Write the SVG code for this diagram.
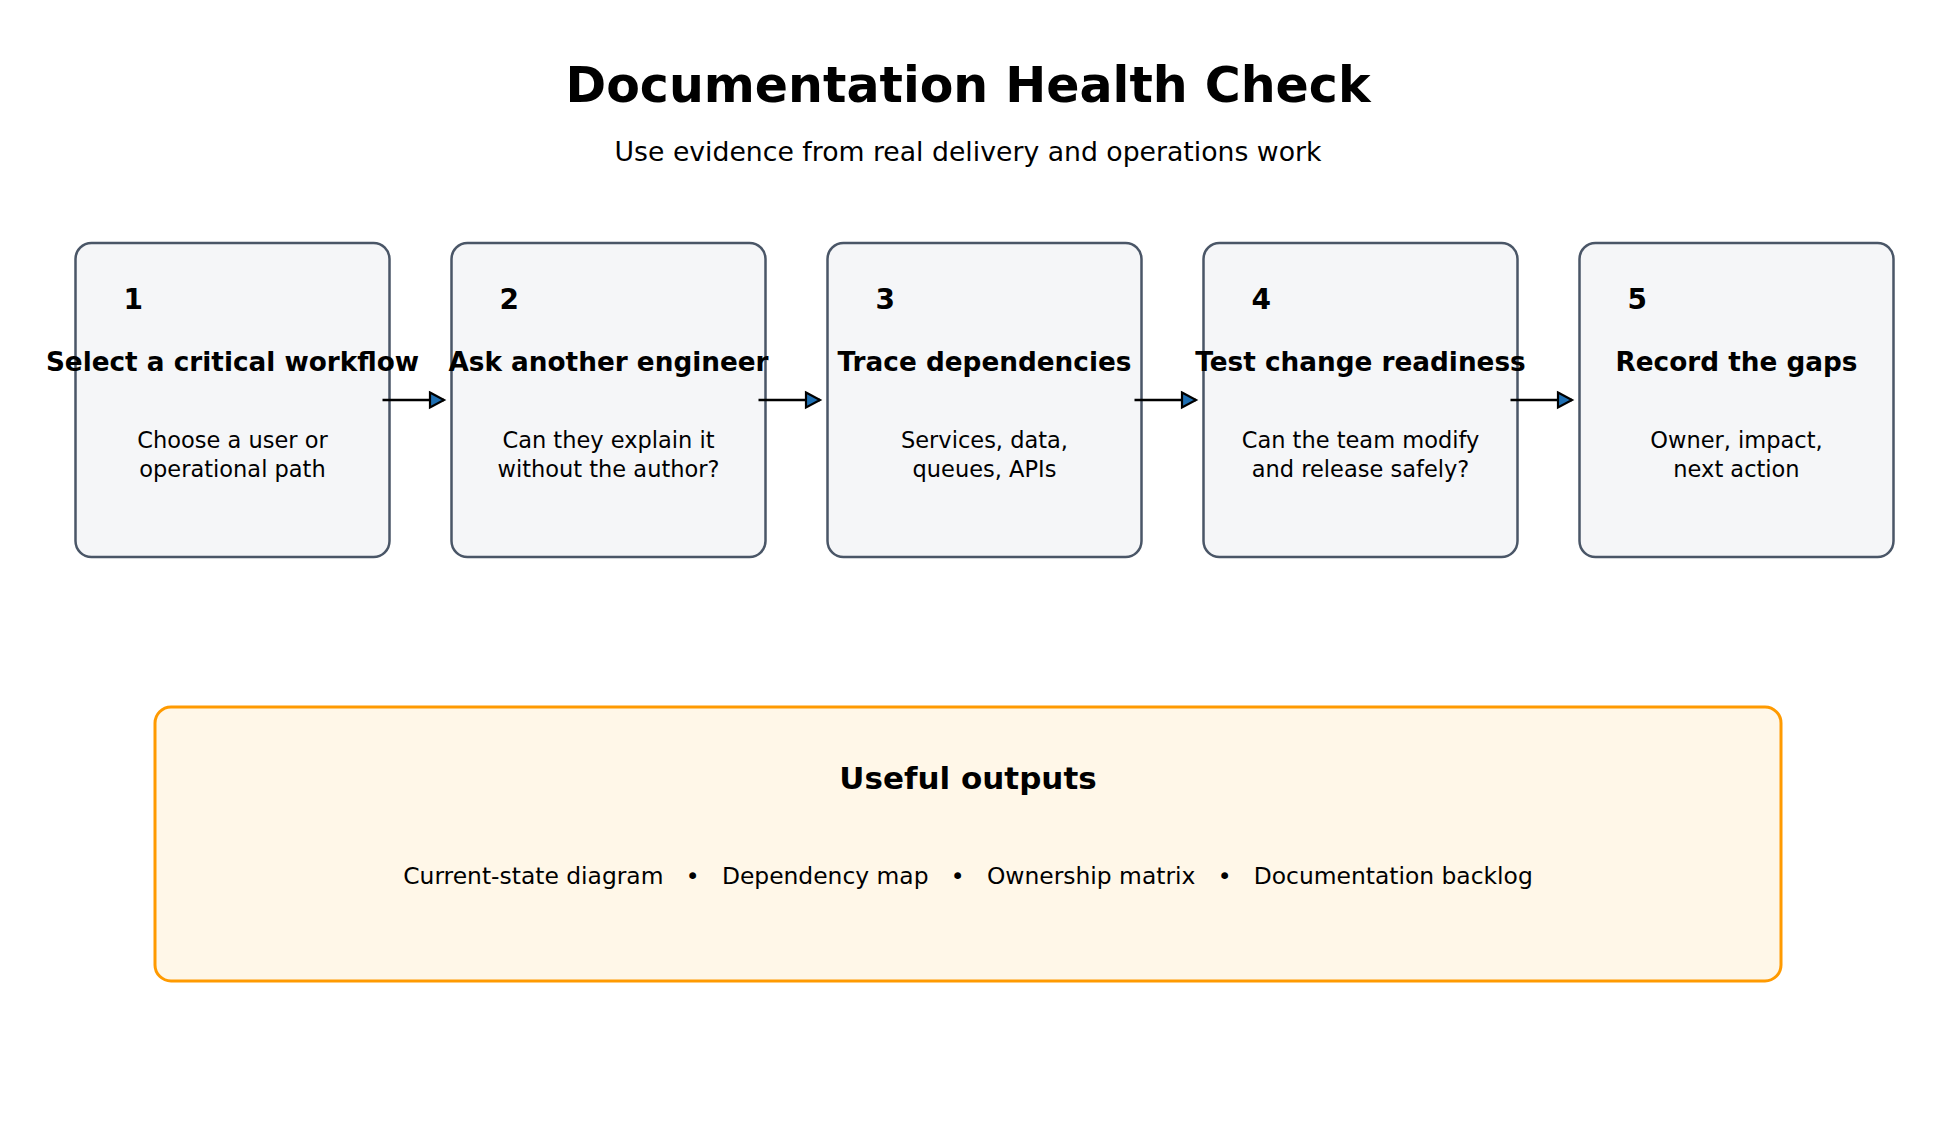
<svg xmlns="http://www.w3.org/2000/svg" width="1936" height="1136" viewBox="0 0 1936 1136">
  <style>
    text { font-family: "DejaVu Sans", "Noto Sans", sans-serif; fill: #000000; }
    .title { font-size: 49px; font-weight: bold; text-anchor: middle; }
    .subtitle { font-size: 26.7px; text-anchor: middle; }
    .step { fill: #f5f6f8; stroke: #4a5667; stroke-width: 2.5; }
    .num { font-size: 28px; font-weight: bold; }
    .head { font-size: 26.3px; font-weight: bold; text-anchor: middle; }
    .body { font-size: 22.5px; text-anchor: middle; }
    .conn { stroke: #000000; stroke-width: 2.6; fill: none; }
    .outputs { fill: #fff7e8; stroke: #ff9a00; stroke-width: 3; }
    .otitle { font-size: 31px; font-weight: bold; text-anchor: middle; }
    .olist { font-size: 23.4px; text-anchor: middle; }
  </style>
  <defs>
    <marker id="arrow" markerUnits="userSpaceOnUse" markerWidth="24" markerHeight="24" refX="14" refY="8" orient="auto" overflow="visible">
      <path d="M0,0.5 L14,8 L0,15.5 Z" fill="#1f6fb2" stroke="#000000" stroke-width="2.2" stroke-linejoin="miter"/>
    </marker>
  </defs>
  <rect width="1936" height="1136" fill="#ffffff"/>

  <g id="header">
    <text class="title" x="968" y="102">Documentation Health Check</text>
    <text class="subtitle" x="968" y="161">Use evidence from real delivery and operations work</text>
  </g>

  <g id="step1">
    <rect class="step" x="75.5" y="243" width="314" height="314" rx="16"/>
    <text class="num" x="123.5" y="309">1</text>
    <text class="head" x="232.5" y="370.5">Select a critical workflow</text>
    <text class="body" x="232.5" y="448">Choose a user or</text>
    <text class="body" x="232.5" y="476.5">operational path</text>
  </g>
  <g id="step2">
    <rect class="step" x="451.5" y="243" width="314" height="314" rx="16"/>
    <text class="num" x="499.5" y="309">2</text>
    <text class="head" x="608.5" y="370.5">Ask another engineer</text>
    <text class="body" x="608.5" y="448">Can they explain it</text>
    <text class="body" x="608.5" y="476.5">without the author?</text>
  </g>
  <g id="step3">
    <rect class="step" x="827.5" y="243" width="314" height="314" rx="16"/>
    <text class="num" x="875.5" y="309">3</text>
    <text class="head" x="984.5" y="370.5">Trace dependencies</text>
    <text class="body" x="984.5" y="448">Services, data,</text>
    <text class="body" x="984.5" y="476.5">queues, APIs</text>
  </g>
  <g id="step4">
    <rect class="step" x="1203.5" y="243" width="314" height="314" rx="16"/>
    <text class="num" x="1251.5" y="309">4</text>
    <text class="head" x="1360.5" y="370.5">Test change readiness</text>
    <text class="body" x="1360.5" y="448">Can the team modify</text>
    <text class="body" x="1360.5" y="476.5">and release safely?</text>
  </g>
  <g id="step5">
    <rect class="step" x="1579.5" y="243" width="314" height="314" rx="16"/>
    <text class="num" x="1627.5" y="309">5</text>
    <text class="head" x="1736.5" y="370.5">Record the gaps</text>
    <text class="body" x="1736.5" y="448">Owner, impact,</text>
    <text class="body" x="1736.5" y="476.5">next action</text>
  </g>

  <g id="connectors">
    <line class="conn" x1="382.5" y1="400" x2="444" y2="400" marker-end="url(#arrow)"/>
    <line class="conn" x1="758.5" y1="400" x2="820" y2="400" marker-end="url(#arrow)"/>
    <line class="conn" x1="1134.5" y1="400" x2="1196" y2="400" marker-end="url(#arrow)"/>
    <line class="conn" x1="1510.5" y1="400" x2="1572" y2="400" marker-end="url(#arrow)"/>
  </g>

  <g id="outputs">
    <rect class="outputs" x="155" y="707" width="1626" height="274" rx="16"/>
    <text class="otitle" x="968" y="789">Useful outputs</text>
    <text class="olist" x="968" y="884" xml:space="preserve">Current-state diagram   •   Dependency map   •   Ownership matrix   •   Documentation backlog</text>
  </g>
</svg>
